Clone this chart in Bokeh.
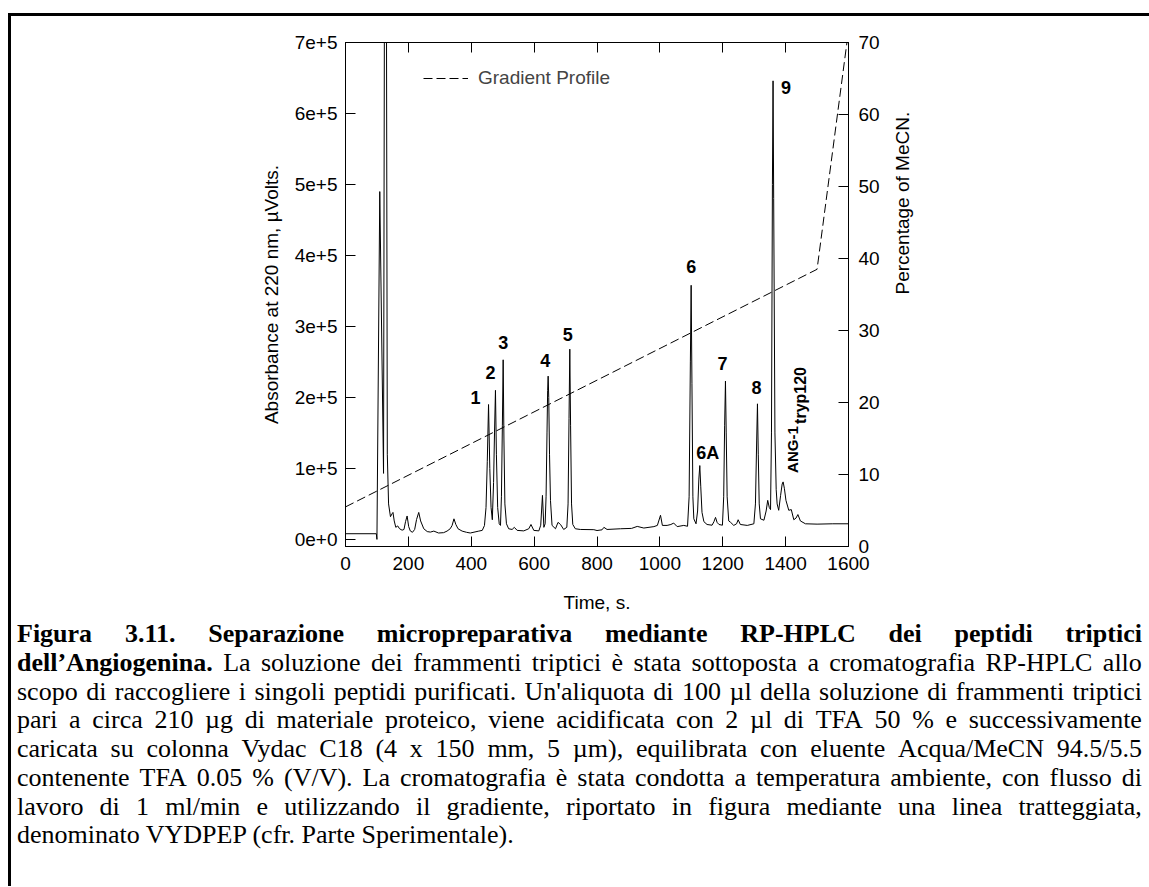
import math
from bokeh.plotting import figure
from bokeh.models import Range1d, LinearAxis, FixedTicker, Div, ColumnDataSource
from bokeh.layouts import column
from bokeh.core.properties import value
from bokeh.embed import file_html
from bokeh.resources import INLINE

# ---------------- data ----------------
time_s = [0, 98, 100, 109, 121, 127, 133, 137, 143, 148, 151, 155, 160, 166, 172, 180, 186, 191, 196,
          201, 206, 213, 220, 226, 233, 239, 249, 260, 270, 281, 296, 312, 323, 333, 339, 345, 351, 358,
          371, 385, 397, 412, 424, 435, 442, 447, 451, 455, 459, 463, 467, 471, 474, 477, 480, 484, 489,
          493, 496, 499, 501.5, 504, 507, 512, 519, 530, 537, 546, 567, 583, 590, 599, 615, 621, 626.5,
          631, 635, 638, 641, 643, 644.6, 646.5, 649, 652, 657, 668, 676, 684, 694, 704, 708, 711, 713.5,
          716, 719, 723, 731, 747, 790, 800, 816, 822, 832, 875, 910, 928, 949, 981, 992, 1002, 1008,
          1023, 1035, 1044, 1055, 1076, 1088, 1093, 1097, 1099.5, 1102, 1105, 1108, 1115, 1120, 1124,
          1127, 1130, 1134, 1140, 1150, 1166, 1172, 1177, 1182, 1188, 1199, 1203, 1206, 1208.6, 1211,
          1214, 1219, 1225, 1235, 1244, 1249, 1256, 1278, 1299, 1304, 1308, 1310.4, 1313, 1316, 1320,
          1331, 1338, 1343, 1348, 1352, 1355, 1358, 1360, 1362, 1366, 1370, 1373, 1378, 1384, 1389,
          1392, 1396, 1401, 1410, 1418, 1426, 1433, 1439, 1447, 1463, 1500, 1550, 1600]
absorbance = [8000, 8000, 0, 490000, 93000, 1500000, 120000, 50000, 32000, 36000, 38000, 26000, 17000,
              19000, 15000, 13000, 14000, 25000, 33000, 18000, 12000, 10000, 14000, 28000, 38000, 26000,
              15000, 11000, 10300, 11700, 9000, 9500, 11700, 15000, 19500, 29000, 21000, 15000, 11700,
              10000, 9000, 10500, 11700, 12700, 19500, 45000, 110000, 190000, 100000, 45000, 27700, 80000,
              150000, 210000, 120000, 45000, 22000, 19700, 60000, 160000, 253000, 140000, 50000, 22000,
              15000, 14000, 17000, 12700, 12000, 15000, 21000, 12700, 12000, 20000, 62000, 17000, 22000,
              60000, 150000, 210000, 230000, 200000, 120000, 55000, 19700, 15000, 24000, 21000, 14000,
              17000, 50000, 170000, 268000, 160000, 50000, 21000, 15000, 14000, 13700, 12500, 13500,
              17000, 14000, 15000, 15500, 18300, 16000, 18000, 19700, 34000, 19700, 19700, 21000, 23000,
              18000, 19700, 18500, 60000, 250000, 358000, 220000, 60000, 29000, 22000, 40000, 85000,
              104000, 75000, 38000, 25000, 21000, 20000, 25000, 31000, 24000, 21000, 20000, 60000, 160000,
              223000, 150000, 60000, 26000, 24000, 19700, 22000, 27700, 21000, 19700, 22000, 50000,
              140000, 191000, 120000, 50000, 29000, 27000, 40000, 55000, 45000, 42000, 150000, 500000,
              646000, 480000, 150000, 70000, 50000, 41000, 62000, 78000, 81000, 72000, 55000, 41000,
              42000, 27700, 30000, 35000, 26000, 22000, 21500, 22000, 22000]

grad_time = [0, 1500, 1595]
grad_pct = [5.5, 38.5, 70]

peak_names = ["1", "2", "3", "4", "5", "6", "6A", "7", "8", "9"]
peak_times = [455, 477, 501.5, 644.6, 713.5, 1099.5, 1127, 1208.6, 1310.4, 1360]
peak_heights = [190000, 210000, 253000, 230000, 268000, 358000, 104000, 223000, 191000, 646000]

ang_time = 1392
ang_height = 81000
ang_main = "ANG-1"
ang_sub = "tryp120"

x_ticks = [0, 200, 400, 600, 800, 1000, 1200, 1400, 1600]
y_ticks = [0, 100000, 200000, 300000, 400000, 500000, 600000, 700000]
y_tick_labels = ["0e+0", "1e+5", "2e+5", "3e+5", "4e+5", "5e+5", "6e+5", "7e+5"]
pct_ticks = [0, 10, 20, 30, 40, 50, 60, 70]

x_title = "Time, s."
y_title = "Absorbance at 220 nm, \u00b5Volts."
y2_title = "Percentage of MeCN."
legend_text = "Gradient Profile"

caption_lines = [
    (99, "Figura 3.11. Separazione micropreparativa mediante RP-HPLC dei peptidi triptici"),
    (1, "dell\u2019Angiogenina. La soluzione dei frammenti triptici \u00e8 stata sottoposta a cromatografia RP-HPLC allo"),
    (0, "scopo di raccogliere i singoli peptidi purificati. Un'aliquota di 100 \u00b5l della soluzione di frammenti triptici"),
    (0, "pari a circa 210 \u00b5g di materiale proteico, viene acidificata con 2 \u00b5l di TFA 50 % e successivamente"),
    (0, "caricata su colonna Vydac C18 (4 x 150 mm, 5 \u00b5m), equilibrata con eluente Acqua/MeCN 94.5/5.5"),
    (0, "contenente TFA 0.05 % (V/V). La cromatografia \u00e8 stata condotta a temperatura ambiente, con flusso di"),
    (0, "lavoro di 1 ml/min e utilizzando il gradiente, riportato in figura mediante una linea tratteggiata,"),
    (0, "denominato VYDPEP (cfr. Parte Sperimentale)."),
]

# ---------------- styling (positions / sizes) ----------------
label_dx = [-13, -5, 0, -3, -2, 0, 8, -3, -1, 13]
label_dy = [-7, -18, -17, -16, -15, -19, -13, -18, -16, 7]

FONT = "Liberation Sans"
TICK_PX = "19px"

p = figure(width=1138, height=604,
           x_range=Range1d(0, 1600), y_range=Range1d(-10000, 700000),
           output_backend="svg", toolbar_location=None,
           min_border_left=334, min_border_right=301, min_border_top=26, min_border_bottom=74)
p.extra_y_ranges = {"pct": Range1d(0, 70)}
p.xgrid.visible = False
p.ygrid.visible = False
p.outline_line_color = "black"
p.outline_line_width = 1
p.background_fill_color = "white"
p.border_fill_color = "white"


def style_axis(ax):
    ax.major_tick_in = 10
    ax.major_tick_out = 0
    ax.minor_tick_line_color = None
    ax.axis_line_color = "black"
    ax.major_tick_line_color = "black"
    ax.major_label_text_font = FONT
    ax.major_label_text_font_size = TICK_PX
    ax.major_label_text_color = "black"
    ax.axis_label_text_font = FONT
    ax.axis_label_text_font_size = "19px"
    ax.axis_label_text_font_style = "normal"
    ax.axis_label_text_color = "black"


xa = p.xaxis[0]
style_axis(xa)
xa.ticker = FixedTicker(ticks=x_ticks)
xa.axis_label = x_title
xa.major_label_standoff = 10
xa.axis_label_standoff = 19

ya = p.yaxis[0]
style_axis(ya)
ya.ticker = FixedTicker(ticks=y_ticks)
ya.major_label_overrides = {t: s for t, s in zip(y_ticks, y_tick_labels)}
ya.axis_label = y_title
ya.major_label_standoff = 8
ya.axis_label_standoff = 10

top = LinearAxis(ticker=FixedTicker(ticks=x_ticks))
style_axis(top)
top.major_label_overrides = {t: "" for t in x_ticks}
p.add_layout(top, "above")

ra = LinearAxis(y_range_name="pct", ticker=FixedTicker(ticks=pct_ticks))
style_axis(ra)
ra.major_label_standoff = 10
ra.axis_label = y2_title
ra.axis_label_standoff = 20
if "axis_label_orientation" in LinearAxis.properties():
    ra.axis_label_orientation = math.pi / 2
p.add_layout(ra, "right")

# chromatogram trace
p.line(time_s, absorbance, line_color="black", line_width=1)

# gradient profile
p.line(grad_time, grad_pct, y_range_name="pct", line_color="black", line_width=1,
       line_dash="9 4", legend_label=legend_text)

lg = p.legend[0]
lg.location = (78, 457)
lg.border_line_color = None
lg.background_fill_alpha = 0
lg.label_text_font = FONT
lg.label_text_font_size = "19px"
lg.glyph_width = 45
lg.glyph_height = 20
lg.label_height = 20
lg.padding = 0
lg.margin = 0
lg.label_standoff = 10

# peak labels
src = ColumnDataSource(dict(x=peak_times, y=peak_heights, name=peak_names, dx=label_dx, dy=label_dy))
p.text(x="x", y="y", text="name", source=src, x_offset="dx", y_offset="dy",
       text_align="center", text_baseline="middle", text_font=value(FONT),
       text_font_style="bold", text_font_size="18px", text_color="black")

p.text(x=[ang_time], y=[ang_height], text=[ang_main], x_offset=9, y_offset=-9, angle=math.pi / 2,
       text_align="left", text_baseline="middle", text_font=value(FONT),
       text_font_style="bold", text_font_size="15px", text_color="black")
p.text(x=[ang_time], y=[ang_height], text=[ang_sub], x_offset=17, y_offset=-58, angle=math.pi / 2,
       text_align="left", text_baseline="middle", text_font=value(FONT),
       text_font_style="bold", text_font_size="16px", text_color="black")

# caption
rows = []
last = len(caption_lines) - 1
for k, (nbold, line) in enumerate(caption_lines):
    if k == last:
        rows.append('<div style="white-space:nowrap;height:28.75px;">%s</div>' % line)
        continue
    spans = []
    for i, w in enumerate(line.split(" ")):
        if i < nbold:
            spans.append('<span style="font-weight:bold">%s</span>' % w)
        else:
            spans.append('<span>%s</span>' % w)
    rows.append('<div style="display:flex;justify-content:space-between;white-space:nowrap;height:28.75px;">%s</div>'
                % "".join(spans))
cap_html = ('<div style="font-family:\'Liberation Serif\',\'Times New Roman\',serif;'
            'font-size:26px;line-height:28.75px;color:#000;padding-left:6px;width:1131px;">%s</div>'
            % "".join(rows))
cap = Div(text=cap_html, width=1138, height=266, margin=(0, 0, 0, 0),
          styles={"overflow-x": "clip", "overflow-y": "visible"})

root = column(p, cap, margin=(13, 0, 0, 8),
              styles={"border-left": "3px solid black", "border-top": "3px solid black"})

open("out.html", "w", encoding="utf-8").write(file_html(root, INLINE))
